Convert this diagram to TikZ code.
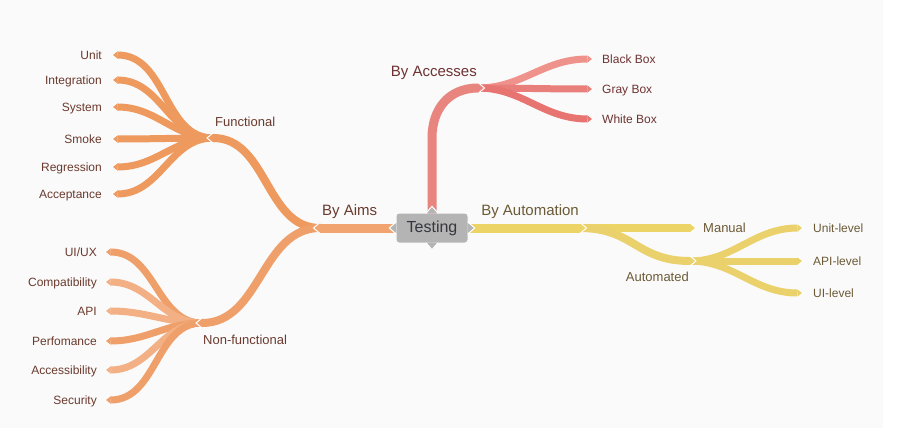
\documentclass[tikz,border=0pt]{standalone}
\usepackage{fontspec}
\setmainfont{Liberation Sans}
\usetikzlibrary{positioning}
\definecolor{bgpage}{HTML}{FAFAFA}
\definecolor{aimsc}{HTML}{F1A470}
\definecolor{funcc}{HTML}{EE9A5F}
\definecolor{nfa}{HTML}{EF9F69}
\definecolor{nfb}{HTML}{F3B085}
\definecolor{accc}{HTML}{E8857F}
\definecolor{acca}{HTML}{EF928B}
\definecolor{accb}{HTML}{E87F7B}
\definecolor{accd}{HTML}{E87471}
\definecolor{autoc}{HTML}{ECD566}
\definecolor{autob}{HTML}{EAD16B}
\definecolor{rootc}{HTML}{B4B4B4}
\definecolor{txtor}{HTML}{6B3A2E}
\definecolor{txtrd}{HTML}{6E3232}
\definecolor{txtyl}{HTML}{6B5A36}
\definecolor{txtrt}{HTML}{363640}
\tikzset{
  band/.style={draw=#1, line width=7pt},
  subband/.style={draw=#1, line width=8pt},
  mainband/.style={draw=#1, line width=9pt},
  tip/.pic={\fill (0,#1) -- (#1+1,0) -- (0,-#1) -- cycle;
    \draw[white, line width=1pt] (0,#1) -- (#1+1,0) -- (0,-#1);},
  leaf/.style={text=#1, font=\fontsize{12}{12}\selectfont, inner sep=0pt,
    text height=8.6pt, text depth=0pt},
  sublbl/.style={text=#1, font=\fontsize{13}{13}\selectfont, inner sep=0pt,
    text height=9.3pt, text depth=0pt},
  mainlbl/.style={text=#1, font=\fontsize{15}{15}\selectfont, inner sep=0pt,
    text height=10.7pt, text depth=0pt},
  rootbox/.style={fill=rootc, rounded corners=3pt, minimum width=71pt,
    minimum height=29pt, inner sep=0pt, text=txtrt,
    font=\fontsize{16}{16}\selectfont}
}
\begin{document}
\begin{tikzpicture}[x=1pt,y=-1pt]
  \useasboundingbox (0,0) rectangle (907,428);
  \fill[white] (0,0) rectangle (907,428);
  \fill[bgpage] (0,0) rectangle (883,428);
  \def\gap{15.5pt}
  \path[coordinate] (320,228) coordinate (aims)
    (213,138) coordinate (func)
    (202,323) coordinate (nonf)
    (432,138) coordinate (accbend)
    (478,88) coordinate (acc)
    (580,228) coordinate (auto)
    (690,228) coordinate (manual)
    (690,261) coordinate (autd);
  \node[rootbox] (root) at (432,228) {Testing};
  \foreach \y/\t [count=\i] in {55/Unit,80/Integration,107/System,
      139/Smoke,167/Regression,194/Acceptance}{%
    \coordinate (f\i) at (117.5,\y);
    \draw[band=funcc] (func) to[out=180,in=0] (f\i);
    \pic[fill=funcc,rotate=180] at (f\i) {tip=4.5};
    \node[leaf=txtor, left=\gap of f\i] (lf\i) {\t};
  }
  \foreach \y/\t/\c [count=\i] in {252/{UI/UX}/nfa,282/Compatibility/nfb,
      311/API/nfb,341/Perfomance/nfa,370/Accessibility/nfb,400/Security/nfa}{%
    \coordinate (n\i) at (110.5,\y);
    \draw[band=\c] (nonf) to[out=180,in=0] (n\i);
    \pic[fill=\c,rotate=180] at (n\i) {tip=4.5};
    \node[leaf=txtor, left=13.5pt of n\i] (ln\i) {\t};
  }
  \draw[subband=funcc] (aims) to[out=180,in=0] (func);
  \pic[fill=funcc,rotate=180] at (func) {tip=5};
  \node[sublbl=txtor, above right=11pt and 2pt of func] (lfunc) {Functional};
  \draw[subband=nfa] (aims) to[out=180,in=0] (nonf);
  \pic[fill=nfa,rotate=180] at (nonf) {tip=5};
  \node[sublbl=txtor, below right=12.4pt and 1pt of nonf] (lnonf) {Non-functional};
  \draw[mainband=aimsc] (root.west) -- (aims);
  \pic[fill=aimsc,rotate=180] at (aims) {tip=5.5};
  \node[mainlbl=txtor, above right=12pt and 2pt of aims] (laims) {By Aims};
  \foreach \y/\t/\c [count=\i] in {59/Black Box/acca,89/Gray Box/accb,
      119/White Box/accd}{%
    \coordinate (a\i) at (587.5,\y);
    \draw[band=\c] (acc) to[out=0,in=180] (a\i);
    \pic[fill=\c] at (a\i) {tip=4.5};
    \node[leaf=txtrd, right=14.5pt of a\i] (la\i) {\t};
  }
  \draw[mainband=accc] (root.north) -- (accbend)
    to[out=90,in=180,looseness=1.1] (acc);
  \pic[fill=accc] at (acc) {tip=5.5};
  \node[mainlbl=txtrd, above left=11.5pt and 1pt of acc] (lacc) {By Accesses};
  \foreach \y/\t [count=\i] in {228/Unit-level,261/API-level,293/UI-level}{%
    \coordinate (u\i) at (797.5,\y);
    \draw[band=autob] (autd) to[out=0,in=180] (u\i);
    \pic[fill=autob] at (u\i) {tip=4.5};
    \node[leaf=txtyl, right=\gap of u\i] (lu\i) {\t};
  }
  \draw[subband=autoc] (auto) -- (manual);
  \pic[fill=autoc] at (manual) {tip=5};
  \node[sublbl=txtyl, right=13pt of manual] (lmanual) {Manual};
  \draw[subband=autob] (auto) to[out=0,in=180,looseness=1.2] (autd);
  \pic[fill=autob] at (autd) {tip=5};
  \node[sublbl=txtyl, below left=11.4pt and 1pt of autd] (lautd) {Automated};
  \draw[mainband=autoc] (root.east) -- (auto);
  \pic[fill=autoc] at (auto) {tip=5.5};
  \node[mainlbl=txtyl, above left=12pt and 1pt of auto] (lauto) {By Automation};
  \pic[fill=rootc,rotate=90] at (root.north) {tip=6};
  \pic[fill=rootc,rotate=270] at (root.south) {tip=6};
  \pic[fill=rootc,rotate=180] at (root.west) {tip=6};
  \pic[fill=rootc] at (root.east) {tip=6};
\end{tikzpicture}
\end{document}
